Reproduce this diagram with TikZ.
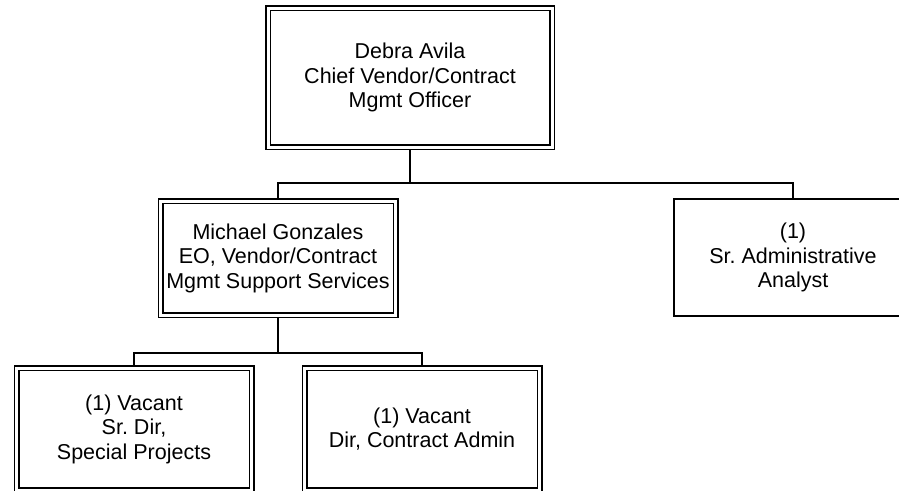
\documentclass[tikz,border=0pt]{standalone}
\usepackage{fontspec}
\setmainfont{Liberation Sans}
\usepackage{tikz}
\usetikzlibrary{positioning}
\frenchspacing

\begin{document}
\begin{tikzpicture}[
    x=1pt, y=-1pt,
    dbox/.style={draw, double, double distance=3pt, line width=1.5pt,
                 outer sep=3pt, align=center, inner sep=2pt,
                 minimum width=235pt, minimum height=114pt,
                 font=\fontsize{21.5}{24.5}\selectfont},
    sbox/.style={draw, line width=2pt, align=center, inner sep=2pt,
                 minimum width=238pt, minimum height=117pt,
                 font=\fontsize{21.5}{24.5}\selectfont},
    link/.style={line width=1.8pt}
  ]
  \useasboundingbox (0,0) rectangle (899,490);
  \clip (0,0) rectangle (899,490);

  \node[dbox, minimum width=284pt, minimum height=139pt] (chief) at (410,77.5)
    {Debra Avila\\Chief Vendor/Contract\\Mgmt Officer};
  \node[dbox, below=48pt of chief, xshift=-132pt] (gonzales)
    {Michael Gonzales\\EO, Vendor/Contract\\Mgmt Support Services};
  \node[sbox, below=48pt of chief, xshift=383pt] (analyst)
    {(1)\\Sr.\ Administrative\\Analyst};
  \node[dbox, minimum height=122pt, below=47pt of gonzales, xshift=-144pt] (special)
    {(1) Vacant\\Sr.\ Dir,\\Special Projects};
  \node[dbox, minimum height=122pt, below=47pt of gonzales, xshift=144pt] (admin)
    {(1) Vacant\\Dir, Contract Admin};

  \draw[link] (chief.south) -- ++(0,33) coordinate (busa);
  \draw[link] (busa) -| (gonzales.north);
  \draw[link] (busa) -| (analyst.north);
  \draw[link] (gonzales.south) -- ++(0,35) coordinate (busb);
  \draw[link] (busb) -| (special.north);
  \draw[link] (busb) -| (admin.north);
\end{tikzpicture}
\end{document}
